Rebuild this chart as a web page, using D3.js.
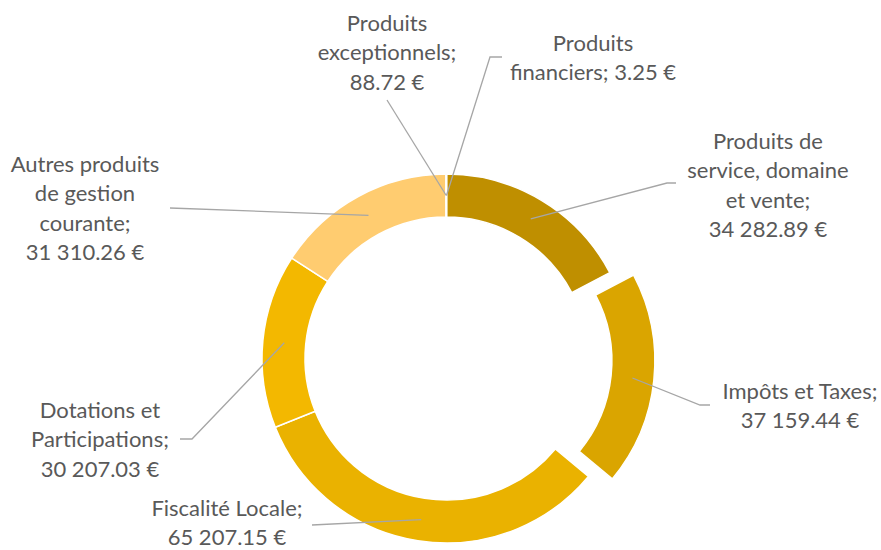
<!DOCTYPE html>
<html>
<head>
<meta charset="utf-8">
<script src="https://cdn.jsdelivr.net/npm/d3@7"></script>
<style>
  body { margin: 0; background: #fff; }
</style>
</head>
<body>
<div id="chart"></div>
<script>
// data
var categories = ["Produits de service, domaine et vente", "Impôts et Taxes",
                  "Fiscalité Locale", "Dotations et Participations",
                  "Autres produits de gestion courante", "Produits exceptionnels",
                  "Produits financiers"];
var values     = [34282.89, 37159.44, 65207.15, 30207.03, 31310.26, 88.72, 3.25];
var colors     = ["#BF8F00", "#DAA500", "#EAB200", "#F3B800", "#FFCC70", "#FFD966", "#FFE699"];

// how each label wraps ("|" = new line, "%v" = value)
var labelText  = ["Produits de|service, domaine|et vente;|%v",
                  "Impôts et Taxes;|%v",
                  "Fiscalité Locale;|%v",
                  "Dotations et|Participations;|%v",
                  "Autres produits|de gestion|courante;|%v",
                  "Produits|exceptionnels;|%v",
                  "Produits|financiers; %v"];

// label layout: text centre x, first baseline y, leader line points after the slice anchor
var labelPos   = [
  { x: 768, y: 149, leader: [[667, 183], [676, 183]] },
  { x: 800, y: 399, leader: [[700, 405], [710, 405]] },
  { x: 227, y: 516, leader: [[312, 525]] },
  { x: 100, y: 418, leader: [[192, 439], [180, 439]] },
  { x: 85,  y: 172, leader: [[170, 208]] },
  { x: 387, y: 31,  leader: [[387, 100]] },
  { x: 593, y: 51,  leader: [[490, 57], [502, 57]] }
];
var exploded   = [0, 24, 0, 0, 0, 0, 0];

var width  = 881;
var height = 550;
var cx = 446.5, cy = 358.5;
var outerR = 184.5, innerR = 141.5;
var lineGap = 29.3;

var locale = d3.formatLocale({ decimal: ".", thousands: " ", grouping: [3], currency: ["", " €"] });
var fmt = locale.format("$,.2f");

var svg = d3.select("#chart")
            .append("svg")
            .attr("width", width)
            .attr("height", height);

svg.append("rect")
   .attr("width", width)
   .attr("height", height)
   .style("fill", "white");

var pie = d3.pie().sort(null).value(function(d) { return d; });
var arcs = pie(values);

var arc = d3.arc().innerRadius(innerR).outerRadius(outerR);
var midArc = d3.arc().innerRadius((innerR + outerR) / 2).outerRadius((innerR + outerR) / 2);

function shift(d, i) {
  var a = (d.startAngle + d.endAngle) / 2;
  return [exploded[i] * Math.sin(a), -exploded[i] * Math.cos(a)];
}

var g = svg.append("g")
           .attr("transform", "translate(" + cx + "," + cy + ")");

// slices
g.selectAll("path")
  .data(arcs)
  .enter()
    .append("path")
    .attr("d", arc)
    .attr("transform", function(d, i) { var s = shift(d, i); return "translate(" + s[0] + "," + s[1] + ")"; })
    .style("fill", function(d, i) { return colors[i]; })
    .style("stroke", "white")
    .style("stroke-width", 1.5);

// leader lines
var line = d3.line();
svg.selectAll("path.leader")
  .data(arcs)
  .enter()
    .append("path")
    .attr("class", "leader")
    .attr("d", function(d, i) {
      var c = midArc.centroid(d);
      var s = shift(d, i);
      var pts = [[cx + c[0] + s[0], cy + c[1] + s[1]]].concat(labelPos[i].leader);
      return line(pts);
    })
    .style("fill", "none")
    .style("stroke", "#A6A6A6")
    .style("stroke-width", 1.3);

// labels
var labels = svg.selectAll("text.label")
  .data(arcs)
  .enter()
    .append("text")
    .attr("class", "label")
    .attr("text-anchor", "middle")
    .attr("font-family", "Lato, 'Open Sans', sans-serif")
    .attr("font-size", "22px")
    .attr("fill", "#595959");

labels.each(function(d, i) {
  var lines = labelText[i].replace("%v", fmt(values[i])).split("|");
  d3.select(this).selectAll("tspan")
    .data(lines)
    .enter()
      .append("tspan")
      .attr("x", labelPos[i].x)
      .attr("y", function(l, j) { return labelPos[i].y + j * lineGap; })
      .text(function(l) { return l; });
});
</script>
</body>
</html>
